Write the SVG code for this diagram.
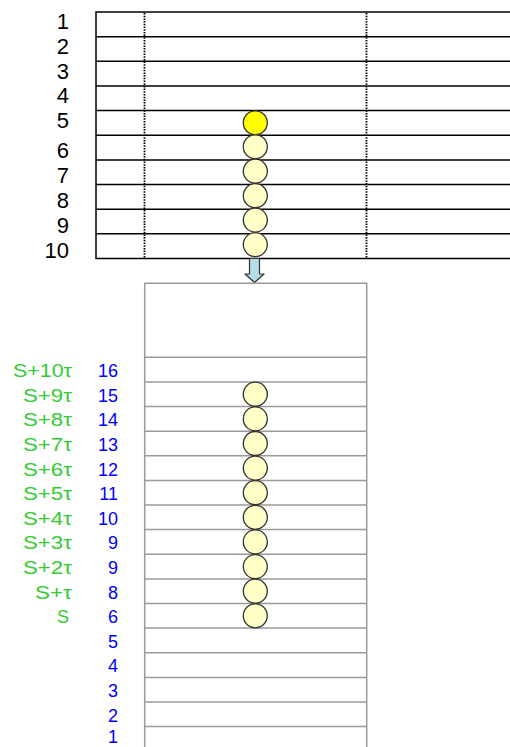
<svg xmlns="http://www.w3.org/2000/svg" width="510" height="747" viewBox="0 0 510 747">
<style>
.tl{stroke:#000;stroke-width:1.5;fill:none}
.dot{stroke:#000;stroke-width:1.8;stroke-dasharray:1.5 1.2;fill:none}
.bl{stroke:#9a9a9a;stroke-width:1.5;fill:none}
.c{fill:#ffffc8;stroke:#333;stroke-width:1.3}
.cy{fill:#ffff00;stroke:#333;stroke-width:1.3}
.n{font-family:"Liberation Sans",Arial,sans-serif;font-size:22px;fill:#000;text-anchor:end}
.b{font-family:"Liberation Sans",Arial,sans-serif;font-size:18px;fill:#0000ff;text-anchor:end}
.g{font-family:"Liberation Sans",Arial,sans-serif;font-size:18px;fill:#33cc33;text-anchor:end}
</style>
<g id="top-table">
<path class="tl" d="M510 12H96V258.5H510"/>
<path class="tl" d="M96 36.65H510M96 61.3H510M96 85.95H510M96 110.6H510M96 135.25H510M96 159.9H510M96 184.55H510M96 209.2H510M96 233.85H510"/>
<path class="dot" d="M144.5 13V258M366.5 13V258"/>
</g>
<g id="top-labels">
<text class="n" x="69" y="29">1</text>
<text class="n" x="69" y="54">2</text>
<text class="n" x="69" y="79">3</text>
<text class="n" x="69" y="103">4</text>
<text class="n" x="69" y="128">5</text>
<text class="n" x="69" y="158">6</text>
<text class="n" x="69" y="183">7</text>
<text class="n" x="69" y="208">8</text>
<text class="n" x="69" y="233">9</text>
<text class="n" x="69" y="258">10</text>
</g>
<g id="top-balls">
<circle class="cy" cx="255.3" cy="122.8" r="12"/>
<circle class="c" cx="255.3" cy="146.8" r="12"/>
<circle class="c" cx="255.3" cy="171.2" r="12"/>
<circle class="c" cx="255.3" cy="195.7" r="12"/>
<circle class="c" cx="255.3" cy="220.1" r="12"/>
<circle class="c" cx="255.3" cy="244.6" r="12"/>
</g>
<g id="connectors">
<path d="M249.5 258.5V274H245L254.5 282.5L264 274H259.5V258.5Z" fill="#b4dde6" stroke="#333" stroke-width="1.2" stroke-linejoin="round"/>
</g>
<g id="bottom-table">
<path class="bl" d="M144.7 747V283.3H366.7V747"/>
<path class="bl" d="M144.7 357.3H366.7M144.7 381.9H366.7M144.7 406.5H366.7M144.7 431.2H366.7M144.7 455.8H366.7M144.7 480.4H366.7M144.7 505H366.7M144.7 529.6H366.7M144.7 554.3H366.7M144.7 578.9H366.7M144.7 603.5H366.7M144.7 628.1H366.7M144.7 652.7H366.7M144.7 677.4H366.7M144.7 702H366.7M144.7 726.6H366.7"/>
</g>
<g id="bottom-balls">
<circle class="c" cx="255.3" cy="394.2" r="12"/>
<circle class="c" cx="255.3" cy="418.9" r="12"/>
<circle class="c" cx="255.3" cy="443.5" r="12"/>
<circle class="c" cx="255.3" cy="468.1" r="12"/>
<circle class="c" cx="255.3" cy="492.7" r="12"/>
<circle class="c" cx="255.3" cy="517.3" r="12"/>
<circle class="c" cx="255.3" cy="541.9" r="12"/>
<circle class="c" cx="255.3" cy="566.6" r="12"/>
<circle class="c" cx="255.3" cy="591.2" r="12"/>
<circle class="c" cx="255.3" cy="615.8" r="12"/>
</g>
<g id="blue-labels">
<text class="b" x="118" y="377">16</text>
<text class="b" x="118" y="401.6">15</text>
<text class="b" x="118" y="426.2">14</text>
<text class="b" x="118" y="450.9">13</text>
<text class="b" x="118" y="475.5">12</text>
<text class="b" x="118" y="500.1">11</text>
<text class="b" x="118" y="524.7">10</text>
<text class="b" x="118" y="549.3">9</text>
<text class="b" x="118" y="574">9</text>
<text class="b" x="118" y="598.6">8</text>
<text class="b" x="118" y="623.2">6</text>
<text class="b" x="118" y="647.8">5</text>
<text class="b" x="118" y="672.4">4</text>
<text class="b" x="118" y="697.1">3</text>
<text class="b" x="118" y="721.7">2</text>
<text class="b" x="118" y="743">1</text>
</g>
<g id="green-labels">
<text class="g" x="72" y="377" textLength="59" lengthAdjust="spacingAndGlyphs">S+10τ</text>
<text class="g" x="72" y="401.6" textLength="49" lengthAdjust="spacingAndGlyphs">S+9τ</text>
<text class="g" x="72" y="426.2" textLength="49" lengthAdjust="spacingAndGlyphs">S+8τ</text>
<text class="g" x="72" y="450.9" textLength="49" lengthAdjust="spacingAndGlyphs">S+7τ</text>
<text class="g" x="72" y="475.5" textLength="49" lengthAdjust="spacingAndGlyphs">S+6τ</text>
<text class="g" x="72" y="500.1" textLength="49" lengthAdjust="spacingAndGlyphs">S+5τ</text>
<text class="g" x="72" y="524.7" textLength="49" lengthAdjust="spacingAndGlyphs">S+4τ</text>
<text class="g" x="72" y="549.3" textLength="49" lengthAdjust="spacingAndGlyphs">S+3τ</text>
<text class="g" x="72" y="574" textLength="49" lengthAdjust="spacingAndGlyphs">S+2τ</text>
<text class="g" x="72" y="598.6" textLength="37" lengthAdjust="spacingAndGlyphs">S+τ</text>
<text class="g" x="69" y="623.2">S</text>
</g>
</svg>
